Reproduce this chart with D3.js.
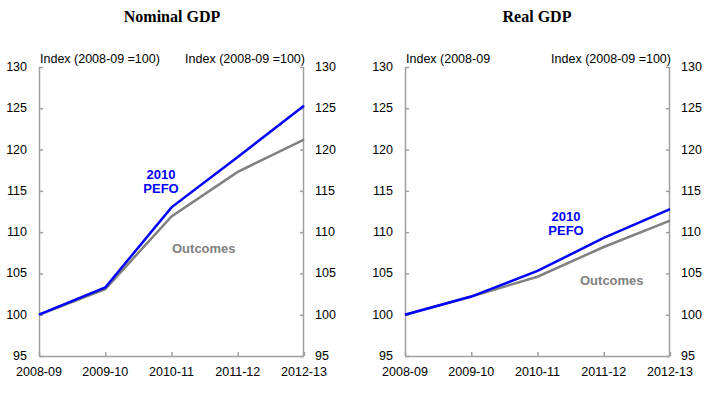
<!DOCTYPE html>
<html>
<head>
<meta charset="UTF-8" />
<style>
    body, html { margin: 0; padding: 0; background: #fff; }
    svg { font-family: "Liberation Sans", Arial, sans-serif; }
    .title { font-family: "Liberation Serif", "Times New Roman", serif; font-weight: bold; font-size: 16px; }
    .lab { font-size: 12.5px; fill: #000; }
    .note { font-size: 13px; font-weight: bold; }
</style>
</head>
<body>
<svg width="712" height="393"></svg>
<script src="https://d3js.org/d3.v7.min.js"></script>
<script>
    // data
    const years = ["2008-09", "2009-10", "2010-11", "2011-12", "2012-13"];
    const nominalPefo = [100, 103.3, 113.0, 119.1, 125.3];
    const nominalOut  = [100, 103.1, 111.9, 117.3, 121.2];
    const realPefo    = [100, 102.2, 105.3, 109.3, 112.8];
    const realOut     = [100, 102.2, 104.6, 108.2, 111.4];
    const yTicks = [95, 100, 105, 110, 115, 120, 125, 130];

    const svg = d3.select("svg");
    const blue = "#0000ff", grey = "#808080", axisGrey = "#a0a0a0";

    function panel(opt) {
        const x = d3.scalePoint().domain(years).range([opt.x0, opt.x1]);
        const y = d3.scaleLinear().domain([95, 130]).range([356, 67]);
        const g = svg.append("g");

        g.append("text").attr("class", "title")
            .attr("x", opt.titleX).attr("y", 22)
            .attr("text-anchor", "middle").text(opt.title);

        // axes (ticks point inward)
        const la = g.append("g").attr("transform", `translate(${opt.x0},0)`)
            .call(d3.axisRight(y).tickValues(yTicks).tickSize(4).tickFormat(""));
        const ra = g.append("g").attr("transform", `translate(${opt.x1},0)`)
            .call(d3.axisLeft(y).tickValues(yTicks).tickSize(4).tickFormat(""));
        const ba = g.append("g").attr("transform", "translate(0,356)")
            .call(d3.axisTop(x).tickSize(4).tickFormat(""));

        [la, ra, ba].forEach(a => a.selectAll("path, line").attr("stroke", axisGrey).attr("stroke-width", 1.5));
        la.select(".domain").attr("d", `M0.5,${y(130)}V${y(95)}`);
        ra.select(".domain").attr("d", `M-0.5,${y(130)}V${y(95)}`);
        ba.select(".domain").attr("d", `M${opt.x0},0.5H${opt.x1}`);

        g.selectAll(".lab-l").data(yTicks).join("text").attr("class", "lab")
            .attr("x", opt.x0 - 12).attr("y", d => y(d) + 4)
            .attr("text-anchor", "end").text(d => d);
        g.selectAll(".lab-r").data(yTicks).join("text").attr("class", "lab")
            .attr("x", opt.x1 + 11).attr("y", d => y(d) + 4)
            .attr("text-anchor", "start").text(d => d);
        g.selectAll(".lab-x").data(years).join("text").attr("class", "lab")
            .attr("x", d => x(d)).attr("y", 376)
            .attr("text-anchor", "middle").text(d => d);

        g.append("text").attr("class", "lab").attr("x", opt.x0 + 1).attr("y", 63).text(opt.leftUnit);
        g.append("text").attr("class", "lab").attr("x", opt.x1 + 1).attr("y", 63)
            .attr("text-anchor", "end").text("Index (2008-09 =100)");

        const line = d3.line().x((d, i) => x(years[i])).y(d => y(d));
        g.append("path").attr("d", line(opt.out)).attr("fill", "none")
            .attr("stroke", grey).attr("stroke-width", 2.5);
        g.append("path").attr("d", line(opt.pefo)).attr("fill", "none")
            .attr("stroke", blue).attr("stroke-width", 2.5);

        const n1 = g.append("text").attr("class", "note").attr("fill", blue)
            .attr("text-anchor", "middle");
        n1.append("tspan").attr("x", opt.pefoLab[0]).attr("y", opt.pefoLab[1]).text("2010");
        n1.append("tspan").attr("x", opt.pefoLab[0]).attr("dy", 14).text("PEFO");
        g.append("text").attr("class", "note").attr("fill", grey)
            .attr("x", opt.outLab[0]).attr("y", opt.outLab[1]).text("Outcomes");
    }

    panel({ title: "Nominal GDP", titleX: 172, x0: 39, x1: 304,
        pefo: nominalPefo, out: nominalOut, leftUnit: "Index (2008-09 =100)",
        pefoLab: [161, 179], outLab: [172, 253] });
    panel({ title: "Real GDP", titleX: 537, x0: 405, x1: 670,
        pefo: realPefo, out: realOut, leftUnit: "Index (2008-09",
        pefoLab: [566, 221], outLab: [580, 285] });
</script>
</body>
</html>
